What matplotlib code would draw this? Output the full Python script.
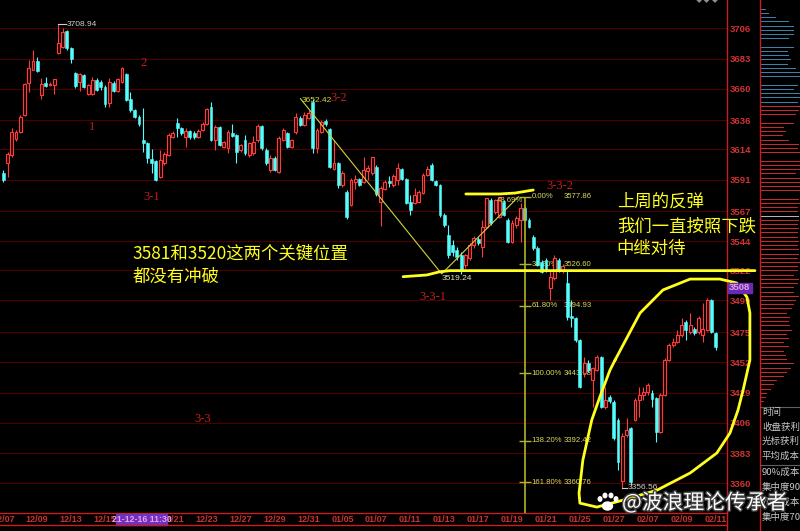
import numpy as np
import matplotlib
matplotlib.use("Agg")
import matplotlib.pyplot as plt
from matplotlib.patches import Rectangle, Ellipse
import matplotlib.patheffects as pe

plt.rcParams['font.family'] = ['Noto Sans CJK SC', 'DejaVu Sans']
NUM_FONT = ['Liberation Sans Narrow', 'Liberation Sans', 'DejaVu Sans']

# ---- 60-min candles ----
opens = [
    3596.0, 3603.6, 3609.6, 3622.0, 3627.1, 3640.1, 3664.4, 3674.3, 3681.1, 3655.3,
    3664.4, 3663.0, 3662.9, 3687.2, 3691.8, 3704.0, 3691.0, 3672.0, 3665.2, 3670.5,
    3656.0, 3656.0, 3666.7, 3665.2, 3661.4, 3649.2, 3664.4, 3658.3, 3665.2, 3671.2,
    3652.2, 3643.9, 3638.5, 3621.1, 3618.8, 3606.6, 3605.1, 3592.9, 3603.6, 3609.6,
    3623.3, 3634.0, 3630.2, 3623.3, 3627.9, 3626.4, 3623.3, 3628.7, 3633.2, 3646.1,
    3621.1, 3630.9, 3615.7, 3615.0, 3626.4, 3624.9, 3613.4, 3621.1, 3609.6, 3611.2,
    3621.1, 3631.7, 3613.4, 3598.2, 3607.4, 3596.7, 3621.1, 3626.4, 3615.7, 3627.1,
    3637.8, 3632.5, 3637.8, 3649.9, 3615.0, 3627.1, 3635.5, 3629.4, 3599.0, 3603.6,
    3586.8, 3581.5, 3571.6, 3589.1, 3591.4, 3589.1, 3597.5, 3596.0, 3600.5, 3573.9,
    3583.8, 3589.9, 3586.8, 3590.6, 3599.0, 3591.4, 3573.9, 3573.1, 3573.9, 3580.7,
    3594.4, 3602.0, 3589.9, 3586.8, 3564.0, 3548.8, 3541.2, 3537.4, 3533.6, 3526.0,
    3531.3, 3541.2, 3545.8, 3539.7, 3554.9, 3575.4, 3566.3, 3562.5, 3573.9, 3560.2,
    3543.5, 3556.4, 3560.2, 3569.3, 3560.2, 3547.3, 3538.9, 3528.3, 3529.8, 3508.5,
    3516.1, 3529.8, 3522.2, 3512.3, 3487.2, 3485.7, 3469.0, 3443.9, 3451.5, 3438.6,
    3446.2, 3456.1, 3418.0, 3425.6, 3421.8, 3408.1, 3362.0, 3396.7, 3402.0, 3408.1,
    3423.4, 3427.2, 3429.4, 3428.7, 3424.9, 3399.0, 3427.2, 3453.8, 3465.2, 3467.4,
    3472.8, 3482.7, 3475.0, 3477.3, 3475.0, 3472.8, 3476.6, 3499.4, 3474.3,
]
highs = [
    3598.2, 3611.9, 3630.2, 3629.0, 3640.1, 3664.4, 3681.9, 3689.5, 3684.0, 3668.2,
    3668.9, 3665.2, 3667.8, 3708.94, 3706.2, 3704.7, 3691.8, 3672.8, 3672.0, 3671.2,
    3663.6, 3669.0, 3668.2, 3666.7, 3662.9, 3668.2, 3665.9, 3668.2, 3676.6, 3672.0,
    3657.6, 3644.6, 3640.1, 3645.4, 3619.5, 3614.2, 3605.8, 3613.4, 3611.9, 3626.4,
    3627.9, 3637.8, 3630.9, 3630.2, 3628.7, 3627.9, 3629.4, 3634.7, 3645.4, 3649.9,
    3632.5, 3631.7, 3620.3, 3628.7, 3633.2, 3625.6, 3618.0, 3624.9, 3619.5, 3624.1,
    3633.2, 3632.5, 3615.0, 3609.6, 3608.9, 3624.1, 3630.2, 3627.1, 3621.8, 3641.6,
    3639.3, 3642.4, 3643.9, 3652.42, 3630.2, 3636.3, 3637.0, 3630.2, 3621.1, 3604.3,
    3597.5, 3583.0, 3592.1, 3594.4, 3592.1, 3608.1, 3602.0, 3608.1, 3602.0, 3586.0,
    3590.6, 3593.7, 3595.2, 3603.6, 3599.8, 3592.1, 3579.2, 3584.5, 3583.0, 3596.0,
    3601.3, 3603.6, 3590.6, 3587.5, 3565.5, 3556.4, 3545.0, 3539.7, 3535.9, 3534.4,
    3542.7, 3548.1, 3547.3, 3560.2, 3577.0, 3576.9, 3576.5, 3577.86, 3575.4, 3561.7,
    3560.2, 3563.2, 3573.1, 3570.8, 3561.7, 3548.8, 3540.4, 3529.8, 3531.3, 3522.2,
    3533.6, 3531.3, 3526.7, 3522.2, 3499.4, 3486.5, 3469.8, 3456.1, 3453.8, 3448.5,
    3457.6, 3456.8, 3433.3, 3427.2, 3423.4, 3409.6, 3398.0, 3410.0, 3402.7, 3424.9,
    3433.3, 3433.3, 3436.3, 3431.0, 3425.6, 3428.7, 3455.3, 3466.7, 3470.5, 3476.6,
    3485.7, 3484.2, 3489.6, 3478.8, 3487.2, 3497.1, 3500.9, 3500.2, 3475.0,
]
lows = [
    3589.1, 3592.9, 3608.1, 3620.0, 3626.4, 3639.3, 3657.6, 3674.3, 3672.8, 3652.2,
    3661.4, 3662.0, 3656.0, 3686.5, 3691.0, 3689.5, 3679.6, 3660.6, 3658.3, 3660.6,
    3655.3, 3655.3, 3658.3, 3659.1, 3646.1, 3646.1, 3657.6, 3657.6, 3664.4, 3650.7,
    3642.4, 3637.8, 3631.7, 3612.0, 3603.6, 3596.0, 3589.9, 3592.1, 3602.0, 3608.9,
    3622.6, 3623.3, 3624.9, 3615.7, 3621.8, 3621.8, 3622.6, 3627.9, 3632.5, 3620.3,
    3613.4, 3616.5, 3615.0, 3611.2, 3623.3, 3603.6, 3611.9, 3609.6, 3608.1, 3609.6,
    3619.5, 3613.4, 3602.0, 3596.7, 3597.5, 3596.0, 3620.3, 3615.0, 3615.0, 3625.6,
    3631.7, 3631.7, 3637.0, 3611.2, 3611.2, 3626.4, 3631.7, 3599.8, 3598.2, 3584.5,
    3585.3, 3561.0, 3570.9, 3583.8, 3586.0, 3588.3, 3590.6, 3594.4, 3578.5, 3555.6,
    3583.0, 3585.3, 3585.3, 3586.8, 3590.6, 3572.4, 3564.0, 3572.4, 3573.1, 3580.0,
    3593.7, 3589.9, 3586.0, 3562.5, 3554.9, 3531.3, 3532.8, 3529.8, 3519.24, 3523.7,
    3529.8, 3538.9, 3541.2, 3532.1, 3554.1, 3556.4, 3564.8, 3561.7, 3563.2, 3542.7,
    3542.7, 3554.1, 3543.5, 3559.4, 3554.1, 3537.4, 3525.2, 3520.0, 3520.7, 3499.4,
    3514.6, 3520.7, 3520.0, 3484.2, 3478.8, 3467.4, 3432.6, 3440.9, 3444.6, 3418.0,
    3445.4, 3417.3, 3416.5, 3421.1, 3392.9, 3370.1, 3356.56, 3395.0, 3358.7, 3407.3,
    3410.4, 3423.4, 3427.2, 3418.0, 3391.4, 3398.2, 3426.4, 3453.0, 3463.7, 3466.7,
    3471.2, 3469.0, 3473.5, 3472.8, 3473.5, 3467.4, 3475.8, 3474.3, 3461.4,
]
closes = [
    3590.6, 3610.4, 3627.1, 3627.0, 3638.5, 3663.6, 3675.8, 3681.1, 3673.5, 3663.6,
    3662.1, 3664.0, 3667.4, 3694.8, 3703.2, 3691.0, 3682.7, 3662.1, 3671.2, 3661.4,
    3662.9, 3666.7, 3659.1, 3661.4, 3648.4, 3665.2, 3658.3, 3667.4, 3675.8, 3651.5,
    3643.9, 3638.5, 3633.2, 3618.8, 3607.4, 3603.6, 3590.6, 3605.8, 3610.4, 3624.9,
    3626.4, 3630.2, 3626.4, 3627.9, 3623.3, 3623.3, 3627.9, 3633.2, 3644.6, 3621.1,
    3630.9, 3617.2, 3619.5, 3627.1, 3624.1, 3611.9, 3617.2, 3611.2, 3618.8, 3619.5,
    3631.7, 3615.0, 3603.6, 3607.4, 3598.2, 3622.6, 3628.7, 3615.7, 3621.1, 3638.5,
    3632.5, 3640.1, 3641.6, 3615.0, 3628.7, 3634.7, 3633.2, 3600.5, 3603.6, 3586.8,
    3596.0, 3562.5, 3590.6, 3591.4, 3586.8, 3598.2, 3599.8, 3608.1, 3580.0, 3584.5,
    3589.1, 3588.3, 3593.7, 3599.8, 3591.4, 3573.1, 3567.8, 3579.2, 3581.5, 3594.4,
    3599.0, 3590.6, 3586.8, 3564.0, 3556.4, 3533.6, 3535.9, 3532.1, 3522.2, 3533.6,
    3541.2, 3546.5, 3542.7, 3554.9, 3576.9, 3557.9, 3575.4, 3577.7, 3564.0, 3543.5,
    3557.9, 3561.7, 3569.3, 3560.2, 3554.9, 3538.9, 3526.0, 3520.7, 3522.2, 3516.9,
    3531.3, 3522.2, 3525.2, 3486.5, 3485.7, 3469.0, 3433.3, 3451.5, 3446.2, 3447.7,
    3456.1, 3418.0, 3423.4, 3422.6, 3394.4, 3376.2, 3396.0, 3400.5, 3361.0, 3423.4,
    3427.2, 3429.4, 3434.8, 3424.1, 3399.0, 3427.2, 3453.8, 3465.2, 3467.4, 3472.8,
    3480.4, 3476.6, 3480.4, 3474.3, 3485.7, 3477.3, 3499.4, 3475.0, 3463.7,
]

# date labels (12/17 sits under the cursor time box, so it is not shown)
date_idx = [0, 8, 16, 24, 40, 48, 56, 64, 72, 80, 88, 96, 104, 112, 120,
            128, 136, 144, 152, 160, 168]
date_labels = ["12/07", "12/09", "12/13", "12/15", "12/21", "12/23", "12/27",
               "12/29", "12/31", "01/05", "01/07", "01/11", "01/13", "01/17", "01/19",
               "01/21", "01/25", "01/27", "02/07", "02/09", "02/11"]
price_ticks = [3706, 3683, 3660, 3636, 3614, 3591, 3567, 3544, 3522, 3499, 3475,
               3452, 3429, 3406, 3383, 3360]

# drawn trend line anchors (as placed by the drawing tool)
pivot_idx = [70.1, 103.4, 121.5]
pivot_price = [3652.42, 3519.24, 3577.86]

# fibonacci extension tool
fib_idx = 123.0
fib_ratio = ["0.00%", "38.20%", "61.80%", "100.00%", "138.20%", "161.80%"]
fib_price = [3577.86, 3526.60, 3494.93, 3443.68, 3392.42, 3360.76]

# wave count labels
wave_names = ["1", "2", "3-1", "3-2", "3-3", "3-3-1", "3-3-2"]
wave_x = [20.9, 33.0, 35.1, 79.2, 47.1, 101.3, 131.3]
wave_y = [3630.8, 3679.6, 3577.7, 3653.0, 3408.9, 3501.7, 3586.0]

# hand-drawn yellow strokes (candle index, price)
support_x = [94.3, 99.9, 103.0, 105.4, 177.3]
support_y = [3517.1, 3518.4, 3520.9, 3521.7, 3521.7]
resist_x = [109.1, 117.1, 120.7, 125.0]
resist_y = [3580.0, 3580.0, 3580.7, 3583.0]
loop_x = [144.3, 150.2, 155.6, 162.0, 169.0, 173.0, 175.4, 176.1, 176.1, 174.5, 173.3,
          171.4, 168.3, 162.0, 154.2, 146.2, 140.0, 136.0, 135.8, 136.7, 138.8, 140.7,
          143.1, 144.3]
loop_y = [3453.7, 3489.5, 3507.0, 3515.3, 3515.3, 3512.3, 3501.6, 3489.5, 3453.7,
          3430.9, 3415.7, 3398.2, 3383.0, 3367.8, 3354.8, 3347.2, 3341.9, 3344.9,
          3352.5, 3377.6, 3408.1, 3425.6, 3446.1, 3453.7]

# chip distribution (bar lengths, top to bottom)
profile_len = [2, 6, 9, 16, 29, 34, 34, 34, 29, 29, 34, 28, 29, 31, 28, 36, 41, 41, 41,
               38, 34, 41, 41, 38,
               41, 39, 36, 38, 34, 24, 26, 23, 29, 39, 38, 41, 41, 41, 41, 41, 36, 41,
               41, 41, 41,
               39, 39, 41, 38, 38, 39, 39, 38, 39, 38, 38, 39, 38, 39, 39, 38, 41, 38,
               38, 34, 39, 38, 34, 34, 39, 36, 34, 32, 27, 30, 29, 30, 32, 27, 29, 24,
               29, 24, 26, 27,
               34, 31, 27, 24, 17, 14, 11, 7, 6, 4]
profile_blue = 24
profile_mark = 50
profile_top, profile_bot = 3723.7, 3421.9

panel_items = ["时间", "收盘获利", "光标获利", "平均成本", "90%成本", "集中度90", "70%成本", "集中度70"]

RED = '#ff3c3c'
CYAN = '#54fcfc'
AXRED = '#c81e1e'
YEL = '#ffff1e'
FIBC = '#b4b42a'

W, H = 800, 531
fig = plt.figure(figsize=(8, 5.31), dpi=100, facecolor='black')
ax = fig.add_axes([0, 18 / H, 727 / W, 513 / H])
ax.set_facecolor('black')
ax.set_xlim(-0.78, 170.7)
ax.set_ylim(3337.4, 3727.5)

o = np.array(opens)
h = np.array(highs)
l = np.array(lows)
c = np.array(closes)
idx = np.arange(len(o))
up = c >= o

ax.vlines(idx[up], l[up], h[up], color=RED, lw=0.8, zorder=3)
ax.vlines(idx[~up], l[~up], h[~up], color=CYAN, lw=0.8, zorder=3)
ax.bar(idx[up], c[up] - o[up], bottom=o[up], width=0.68, facecolor='#200000',
       edgecolor=RED, lw=0.8, zorder=4)
ax.bar(idx[~up], o[~up] - c[~up], bottom=c[~up], width=0.68, color=CYAN,
       edgecolor=CYAN, lw=0.4, zorder=4)

# grid / axes
ax.set_yticks(price_ticks)
ax.set_yticklabels([str(p) for p in price_ticks])
ax.yaxis.tick_right()
ax.tick_params(axis='y', length=0, pad=2, labelsize=6.8, labelcolor='#d23232')
ax.grid(axis='y', color='#4e0000', lw=0.8)
ax.set_axisbelow(True)
ax.set_xticks(date_idx)
ax.set_xticklabels(date_labels)
ax.tick_params(axis='x', length=0, pad=1.5, labelsize=6.5, labelcolor='#c83232')
for lab in ax.get_xticklabels() + ax.get_yticklabels():
    lab.set_family(NUM_FONT)
    lab.set_weight('bold')
for s in ['top', 'left']:
    ax.spines[s].set_visible(False)
for s in ['right', 'bottom']:
    ax.spines[s].set_color(AXRED)
    ax.spines[s].set_linewidth(1.0)

# trend lines between the wave pivots
ax.plot(pivot_idx, pivot_price, color='#d2d23c', lw=0.8, zorder=5)

# fibonacci tool
ax.vlines(fib_idx, ax.get_ylim()[0], fib_price[0], color=FIBC, lw=1.2, zorder=5)
ax.hlines(fib_price, fib_idx - 1.4, fib_idx + 1.4, color=FIBC, lw=1.0, zorder=5)
for r, p in zip(fib_ratio, fib_price):
    ax.text(fib_idx + 1.6, p, r, color='#d8d860', fontsize=5.6, va='center',
            family=NUM_FONT, zorder=2)
    ax.text(fib_idx + 9.2, p, f"{p:.2f}", color='#d8d860', fontsize=5.6, va='center',
            family=NUM_FONT, zorder=2)
ax.text(pivot_idx[2] - 5.0, pivot_price[2] - 2.5, "43.69%", color='#d8d860',
        fontsize=5.6, va='center', family=NUM_FONT, zorder=6)

# extreme price labels
hi = int(np.argmax(h))
ax.plot([hi, hi + 1.9], [h[hi], h[hi]], color='#d0d0d0', lw=0.8, zorder=6)
ax.text(hi + 2.0, h[hi], f"{h[hi]:.2f}", color='#d0d0d0', fontsize=6, va='center',
        family=NUM_FONT, zorder=6)
lo = int(np.argmin(l))
ax.plot([lo, lo + 1.1], [l[lo], l[lo]], color='#d0d0d0', lw=0.8, zorder=6)
ax.text(lo + 1.2, l[lo], f"{l[lo]:.2f}", color='#d0d0d0', fontsize=6, va='center',
        family=NUM_FONT, zorder=6)
ax.text(pivot_idx[0] + 0.3, pivot_price[0] - 1.5, f"{pivot_price[0]:.2f}",
        color='#d4d43a', fontsize=6, va='center', family=NUM_FONT, zorder=6)
ax.text(pivot_idx[1] - 0.1, pivot_price[1] - 3.3, f"{pivot_price[1]:.2f}",
        color='#e6e6b4', fontsize=6, va='center', family=NUM_FONT, zorder=6)

# wave counts
for name, x, y in zip(wave_names, wave_x, wave_y):
    ax.text(x, y, name, color=AXRED, fontsize=9, ha='center', va='center',
            family=['Liberation Serif', 'DejaVu Serif'], zorder=6)

# hand-drawn strokes
kw = dict(color=YEL, lw=2.0, solid_capstyle='round', solid_joinstyle='round',
          clip_on=False, zorder=8)
ax.plot(support_x, support_y, **kw)
ax.plot(resist_x, resist_y, **kw)
ax.plot(loop_x, loop_y, **kw)

# comments
ax.text(30.4, 3535.1, "3581和3520这两个关键位置", color=YEL, fontsize=12.5,
        va='center', ha='left', zorder=7)
ax.text(30.4, 3516.9, "都没有冲破", color=YEL, fontsize=12.5, va='center', ha='left', zorder=7)
for txt, y in zip(["上周的反弹", "我们一直按照下跌", "中继对待"], [3573.9, 3554.9, 3538.2]):
    ax.text(144.7, y, txt, color=YEL, fontsize=12.5, va='center', ha='left', zorder=7)

# chip distribution panel
axp = fig.add_axes([760 / W, 18 / H, 40 / W, 513 / H])
axp.set_facecolor('black')
axp.set_xlim(0, 40)
axp.set_ylim(ax.get_ylim())
levels = np.linspace(profile_top, profile_bot, len(profile_len))
pcol = ['#3a82aa' if i < profile_blue else '#c82a2a' for i in range(len(profile_len))]
pcol[profile_mark] = '#b4b4b4'
axp.barh(levels, profile_len, height=0.75, left=0, color=pcol)
axp.set_xticks([])
axp.set_yticks([])
for s in axp.spines.values():
    s.set_visible(False)

# overlay in pixel units for chrome
deco = fig.add_axes([0, 0, 1, 1], zorder=10)
deco.set_xlim(0, W)
deco.set_ylim(H, 0)
deco.axis('off')
deco.patch.set_visible(False)
deco.plot([727, 727], [513, 531], color=AXRED, lw=1.0)
deco.plot([759.5, 759.5], [0, 531], color=AXRED, lw=1.0)
deco.plot([0, 727], [525, 525], color=AXRED, lw=1.0)
deco.add_patch(Rectangle((116, 514), 51, 11, color='#7030c0'))
deco.text(141.5, 519.5, "21-12-16 11:30", color='#e8a0e8', fontsize=6.3, ha='center',
          va='center', family=NUM_FONT, weight='bold')
deco.add_patch(Rectangle((727.5, 283), 24, 10, color='#6a2bb0'))
deco.text(729, 288, "3508", color='#e0a0e0', fontsize=6.8, va='center',
          family=NUM_FONT, weight='bold')
deco.text(729, -2, "3729", color='#d23232', fontsize=6.8, va='center',
          family=NUM_FONT, weight='bold')
deco.text(707, 0, "◆◆◆", color='#909090', fontsize=6, ha='center', va='center')
deco.plot([760, 800], [406.7, 406.7], color='#606060', lw=0.8)
deco.plot([760, 800], [465, 465], color='#606060', lw=0.8)
for txt, y in zip(panel_items, [412.7, 427.7, 441.7, 456.7, 472.7, 487.7, 502.7, 517.3]):
    deco.text(762, y, txt, color='#c8c8c8', fontsize=6.8, va='center', ha='left')

# watermark
wm = [pe.withStroke(linewidth=2, foreground='#404040')]
deco.text(622, 503, "@波浪理论传承者", color='white', fontsize=15, va='center',
          ha='left', path_effects=wm)
deco.add_patch(Ellipse((607.5, 506), 10, 8, color='white'))
for px, py in [(600, 499), (605, 495.5), (611, 495.5), (616, 499)]:
    deco.add_patch(Ellipse((px, py), 3.6, 4.4, color='white'))

fig.savefig("out.png", dpi=100, facecolor='black')
